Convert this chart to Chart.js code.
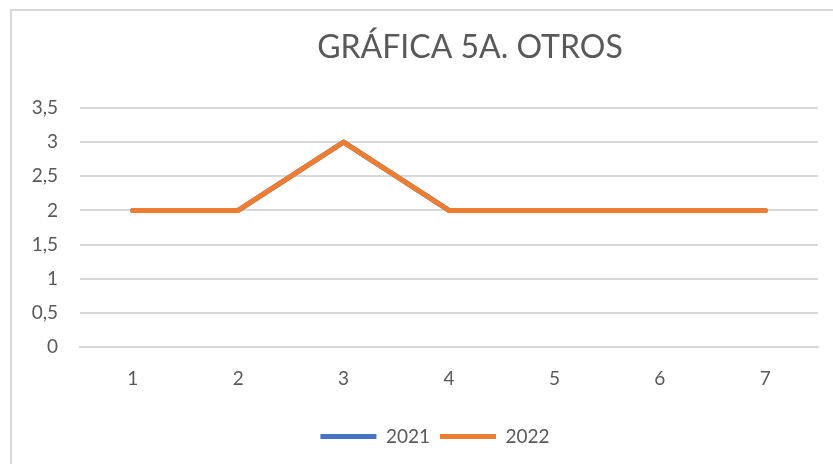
<!DOCTYPE html>
<html>
<head>
<meta charset="utf-8">
<script src="https://cdn.jsdelivr.net/npm/chart.js@4"></script>
<style>
  html, body { margin: 0; padding: 0; background: #fff; }
  #wrap { position: relative; width: 833px; height: 464px; overflow: hidden; }
  #frame { position: absolute; left: 10px; top: 9px; width: 900px; height: 500px;
           border-top: 2px solid #d9d9d9; border-left: 2px solid #d9d9d9; }
  canvas { position: absolute; left: 0; top: 0; }
</style>
</head>
<body>
<div id="wrap">
  <div id="frame"></div>
  <canvas id="chart" width="833" height="464"></canvas>
</div>
<script>
const labels = ['1', '2', '3', '4', '5', '6', '7'];
const values2021 = [2, 2, 3, 2, 2, 2, 2];
const values2022 = [2, 2, 3, 2, 2, 2, 2];
const chartTitle = 'GRÁFICA 5A. OTROS';

const textColor = '#595959';
const gridColor = '#d9d9d9';
const fontFamily = 'Lato, "Open Sans", sans-serif';

const makeSeries = (label, data, color, order) => ({
  label: label,
  data: data,
  borderColor: color,
  backgroundColor: color,
  borderWidth: 5,
  borderCapStyle: 'round',
  borderJoinStyle: 'round',
  pointRadius: 0,
  pointHoverRadius: 0,
  pointStyle: 'line',
  tension: 0,
  order: order,
});

// title sits a bit right of centre, like in the excel export
const titlePlugin = {
  id: 'excelTitle',
  afterLayout: chart => {
    // centre the legend under the plot area instead of the whole canvas
    if (chart.legend) chart.legend.left += 42;
  },
  afterDraw: chart => {
    const ctx = chart.ctx;
    ctx.save();
    ctx.font = '32px ' + fontFamily;
    ctx.fillStyle = textColor;
    ctx.textAlign = 'center';
    ctx.textBaseline = 'middle';
    ctx.fillText(chartTitle, 470, 48);
    ctx.restore();
  },
};

new Chart(document.getElementById('chart'), {
  type: 'line',
  data: {
    labels: labels,
    datasets: [
      makeSeries('2021', values2021, '#4472c4', 1),
      makeSeries('2022', values2022, '#ed7d31', 0),
    ],
  },
  plugins: [titlePlugin],
  options: {
    responsive: false,
    animation: false,
    layout: { padding: { left: 10, right: 15, top: 108, bottom: 8 } },
    plugins: {
      title: { display: false },
      legend: {
        position: 'bottom',
        labels: {
          color: textColor,
          font: { family: fontFamily, size: 19 },
          usePointStyle: true,
          pointStyleWidth: 56,
          boxWidth: 56,
          boxHeight: 5,
          padding: 10,
          sort: (a, b) => a.datasetIndex - b.datasetIndex,
        },
      },
      tooltip: { enabled: false },
    },
    scales: {
      x: {
        offset: true,
        grid: { display: false, drawTicks: false },
        border: { display: true, color: gridColor, width: 2 },
        ticks: { color: textColor, font: { family: fontFamily, size: 19 }, padding: 20 },
        afterFit: scale => { scale.height = 70; },
      },
      y: {
        min: 0,
        max: 3.5,
        grid: { color: gridColor, lineWidth: 2, drawTicks: false },
        border: { display: false },
        ticks: {
          stepSize: 0.5,
          color: textColor,
          font: { family: fontFamily, size: 19 },
          padding: 22,
          callback: v => String(v).replace('.', ','),
        },
        afterFit: scale => { scale.width = 70; },
      },
    },
  },
});
</script>
</body>
</html>
